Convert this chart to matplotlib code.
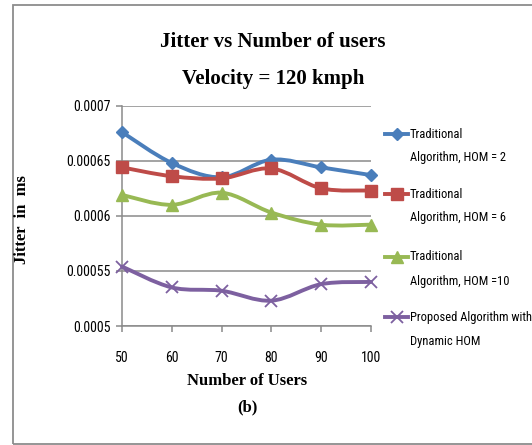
import numpy as np
import matplotlib
matplotlib.use('Agg')
import matplotlib.pyplot as plt
from matplotlib.path import Path
from matplotlib.patches import PathPatch, Rectangle
from matplotlib.lines import Line2D

## Data
users = [50, 60, 70, 80, 90, 100]
hom2 = [0.000676, 0.000648, 0.000635, 0.000651, 0.000644, 0.000637]
hom6 = [0.000644, 0.000636, 0.000634, 0.000643, 0.000625, 0.000623]
hom10 = [0.000619, 0.000610, 0.000621, 0.000603, 0.000592, 0.000592]
proposed = [0.000554, 0.000535, 0.000532, 0.000523, 0.000538, 0.000540]
labels = [('Traditional', 'Algorithm, HOM = 2'), ('Traditional', 'Algorithm, HOM = 6'),
          ('Traditional', 'Algorithm, HOM =10'), ('Proposed Algorithm with', 'Dynamic HOM')]
yticks = [0.0005, 0.00055, 0.0006, 0.00065, 0.0007]
ytick_labels = ['0.0005', '0.00055', '0.0006', '0.00065', '0.0007']

colors = ['#4A7EBB', '#BE4B48', '#98B954', '#7D60A0']
markers = ['D', 's', '^', 'x']
msizes = [6.5, 8.5, 8, 8]

narrow = dict(family=['Roboto Condensed', 'DejaVu Sans Condensed', 'DejaVu Sans'],
              stretch='condensed')
serif = ['Liberation Serif', 'DejaVu Serif']
W, H = 532, 445

def smooth_path(x, y):
    # Excel-like smoothed line: cubic Bezier segments (Catmull-Rom control points)
    p = np.column_stack([x, y]).astype(float)
    pp = np.vstack([p[0], p, p[-1]])
    verts, codes = [p[0]], [Path.MOVETO]
    for i in range(len(p) - 1):
        c1 = pp[i+1] + (pp[i+2] - pp[i]) / 6
        c2 = pp[i+2] - (pp[i+3] - pp[i+1]) / 6
        verts += [c1, c2, pp[i+2]]
        codes += [Path.CURVE4] * 3
    return Path(verts, codes)

fig = plt.figure(figsize=(W/100, H/100), dpi=100)
ax = fig.add_axes([122/W, 1-326/H, (371-122)/W, (326-105.7)/H])

for ys, c, m, ms in zip([hom2, hom6, hom10, proposed], colors, markers, msizes):
    ax.add_patch(PathPatch(smooth_path(users, ys), facecolor='none', edgecolor=c,
                           lw=2.8, capstyle='round', joinstyle='round', clip_on=False, zorder=3))
    ax.plot(users, ys, ls='none', marker=m, ms=ms, color=c, mec=c, mew=1.3 if m == 'x' else 1,
            clip_on=False, zorder=4)

ax.set_xlim(50, 100)
ax.set_ylim(0.0005, 0.0007)
ax.set_xticks(users)
ax.set_xticklabels([str(u) for u in users], fontsize=10, **narrow)
ax.set_yticks(yticks)
ax.set_yticklabels(ytick_labels, fontsize=10, **narrow)
ax.grid(axis='y', color='#8a8a8a', lw=1.1)
ax.set_axisbelow(True)
for s in ['top', 'right']:
    ax.spines[s].set_visible(False)
for s in ['left', 'bottom']:
    ax.spines[s].set_color('#8a8a8a')
    ax.spines[s].set_linewidth(1.1)
ax.tick_params(axis='both', colors='#8a8a8a', labelcolor='black', length=4, width=1.1)
ax.tick_params(axis='x', pad=14)
ax.tick_params(axis='y', pad=4)

## Text
fig.text(273/W, 1-42/H, 'Jitter vs Number of users', family=serif, weight='bold',
         fontsize=15, ha='center', va='center')
fig.text(273/W, 1-79/H, 'Velocity = 120 kmph', family=serif, weight='bold',
         fontsize=15, ha='center', va='center')
fig.text(247/W, 1-381/H, 'Number of Users', family=serif, weight='bold',
         fontsize=12, ha='center', va='center')
fig.text(247/W, 1-407/H, '(b)', family=serif, weight='bold',
         fontsize=12, ha='center', va='center')
fig.text(22/W, 1-220/H, 'Jitter  in  ms', family=serif, weight='bold',
         fontsize=12, ha='center', va='center', rotation=90)

## Legend, laid out by hand: handle beside the first line of each label
leg_y = [134, 194, 257, 317]
for y0, (l1, l2), c, m, ms in zip(leg_y, labels, colors, markers, msizes):
    fig.add_artist(Line2D([385/W, 408/W], [1-y0/H, 1-y0/H], transform=fig.transFigure,
                          color=c, lw=2.8, marker=m, ms=ms, mec=c, markevery=[],
                          mew=1.3 if m == 'x' else 1))
    fig.add_artist(Line2D([396.5/W], [1-y0/H], transform=fig.transFigure, ls='none',
                          color=c, marker=m, ms=ms, mec=c, mew=1.3 if m == 'x' else 1))
    fig.text(410/W, 1-y0/H, l1, fontsize=9, va='center', ha='left', **narrow)
    fig.text(410/W, 1-(y0+24)/H, l2, fontsize=9, va='center', ha='left', **narrow)

## Outer frame
fig.add_artist(Rectangle((13/W, 1/H), 1.1, 439/H, transform=fig.transFigure,
                         facecolor='none', edgecolor='#8c8c8c', lw=1.3, clip_on=False))

plt.savefig('out.png', dpi=100)
